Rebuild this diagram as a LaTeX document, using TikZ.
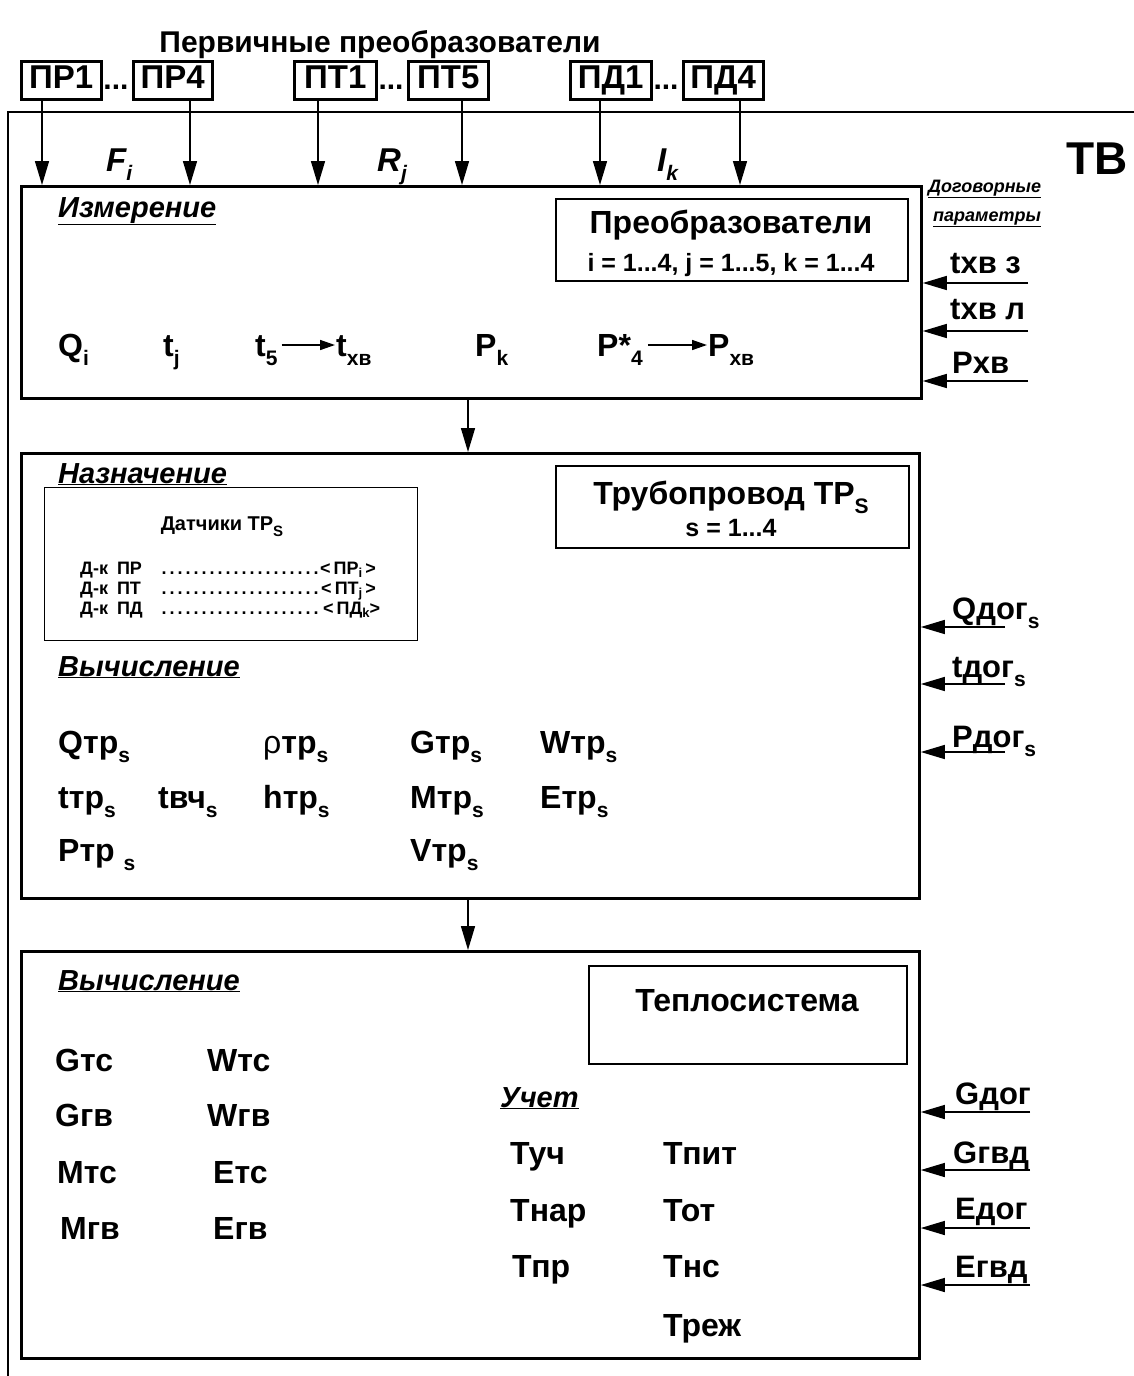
\documentclass[tikz,border=0pt]{standalone}
\usepackage{fontspec}
\setmainfont{Liberation Sans}
\usetikzlibrary{arrows.meta}
\newcommand\fsz[1]{\fontsize{#1}{#1}\selectfont}
\newcommand\lowsub[2][21]{\raisebox{-0.3em}{\fsz{#1}#2}}
\newcommand\dsub[1]{\raisebox{-0.2em}{\fsz{13}#1}}
\newcommand\dotlead{\leaders\hbox to 8pt{\hss.\hss}\hfill}
\begin{document}
\bfseries
\begin{tikzpicture}[x=1pt,y=-1pt,
  txt/.style={anchor=base west,inner sep=0pt,font=\fsz{32}},
  mid/.style={txt,font=\fsz{31}},
  small/.style={txt,font=\fsz{18}},
  head/.style={txt,font=\fsz{29}\itshape},
  ilbl/.style={txt,font=\fsz{33}\itshape},
  frame/.style={draw,line width=2.8pt,inner sep=0pt,anchor=north west},
  ibox/.style={draw,line width=1.8pt,inner sep=0pt,anchor=north west},
  sbox/.style={draw,line width=2.5pt,inner sep=0pt,anchor=north west,font=\fsz{33},text height=22pt,text depth=5pt},
  arr/.style={line width=1.5pt,-{Triangle[length=24pt,width=14pt]}},
  tarr/.style={line width=1.5pt,-{Triangle[length=15pt,width=10pt]}},
]
\useasboundingbox (0,0) rectangle (1134,1376);
\fill[white] (0,0) rectangle (1134,1376);

% title
\node[txt,anchor=base,font=\fsz{30}] (title) at (380,52) {Первичные преобразователи};

% primary converters
\node[sbox,minimum width=80pt,minimum height=38pt] (pr1) at (20,60) {ПР1};
\node[sbox,minimum width=79pt,minimum height=38pt] (pr4) at (132,60) {ПР4};
\node[sbox,minimum width=82pt,minimum height=38pt] (pt1) at (293,60) {ПТ1};
\node[sbox,minimum width=80pt,minimum height=38pt] (pt5) at (407,60) {ПТ5};
\node[sbox,minimum width=81pt,minimum height=38pt] (pd1) at (569,60) {ПД1};
\node[sbox,minimum width=80pt,minimum height=38pt] (pd4) at (682,60) {ПД4};
\node[txt,anchor=base,font=\fsz{30}] (dots1) at (116,89) {...};
\node[txt,anchor=base,font=\fsz{30}] (dots2) at (391,89) {...};
\node[txt,anchor=base,font=\fsz{30}] (dots3) at (666,89) {...};

% outer TB frame
\draw[line width=2.8pt] (8,1376) -- (8,112) -- (1134,112);
\node[txt,font=\fsz{46}] (tv) at (1066,174) {ТВ};

% blocks
\node[frame,minimum width=900pt,minimum height=212pt] (b1) at (20,185) {};
\node[frame,minimum width=898pt,minimum height=445pt] (b2) at (20,452) {};
\node[frame,minimum width=898pt,minimum height=407pt] (b3) at (20,950) {};

% arrows from converters
\coordinate (x1) at (42,0);
\coordinate (x2) at (190,0);
\coordinate (x3) at (318,0);
\coordinate (x4) at (462,0);
\coordinate (x5) at (600,0);
\coordinate (x6) at (740,0);
\draw[arr] (x1 |- pr1.south) -- (x1 |- b1.north);
\draw[arr] (x2 |- pr4.south) -- (x2 |- b1.north);
\draw[arr] (x3 |- pt1.south) -- (x3 |- b1.north);
\draw[arr] (x4 |- pt5.south) -- (x4 |- b1.north);
\draw[arr] (x5 |- pd1.south) -- (x5 |- b1.north);
\draw[arr] (x6 |- pd4.south) -- (x6 |- b1.north);
\node[ilbl] (fi) at (106,171) {F\lowsub[21]{i}};
\node[ilbl] (rj) at (377,171) {R\lowsub[21]{j}};
\node[ilbl] (ik) at (657,171) {I\lowsub[21]{k}};

% block 1
\node[head] (h1) at (58,217) {\underline{Измерение}};
\node[ibox,minimum width=352pt,minimum height=82pt] (conv) at (555,198) {};
\node[txt,anchor=base] (convt) at (731,233) {Преобразователи};
\node[txt,anchor=base,font=\fsz{25}] (convi) at (731,271) {i = 1...4, j = 1...5, k = 1...4};
\node[txt] (qi) at (58,356) {Q\lowsub{i}};
\node[txt] (tj) at (163,356) {t\lowsub{j}};
\node[txt] (t5) at (255,356) {t\lowsub{5}};
\node[txt] (txv) at (336,356) {t\lowsub{хв}};
\draw[tarr] ([shift={(4,-11)}]t5.base east) -- ([shift={(-1,-11)}]txv.base west);
\node[txt] (pk) at (475,356) {P\lowsub{k}};
\node[txt] (p4) at (597,356) {P*\lowsub{4}};
\node[txt] (pxv) at (708,356) {P\lowsub{хв}};
\draw[tarr] ([shift={(5,-11)}]p4.base east) -- ([shift={(-1,-11)}]pxv.base west);

% contract parameters
\node[txt,font=\fsz{18}\itshape] (dog1) at (928,192) {\underline{Договорные}};
\node[txt,font=\fsz{18}\itshape] (dog2) at (933,221) {\underline{параметры}};
\node[mid] (txz) at (950,273) {tхв з};
\node[mid] (txl) at (950,319) {tхв л};
\node[mid] (pxvi) at (952,373) {Рхв};
\coordinate (r1) at (1028,283);
\coordinate (r2) at (1028,331);
\coordinate (r3) at (1028,381);
\draw[arr] (r1) -- (r1 -| b1.east);
\draw[arr] (r2) -- (r2 -| b1.east);
\draw[arr] (r3) -- (r3 -| b1.east);

\coordinate (mx) at (468,0);
\draw[arr] (mx |- b1.south) -- (mx |- b2.north);
\draw[arr] (mx |- b2.south) -- (mx |- b3.north);

% block 2
\node[head] (h2) at (58,483) {\underline{Назначение}};
\node[draw,line width=1pt,inner sep=0pt,anchor=north west,minimum width=373pt,minimum height=153pt] (dat) at (44,487) {};
\node[small,anchor=base,font=\fsz{20}] (datt) at (222,530) {Датчики ТР\lowsub[15]{S}};
\node[small] (dk1) at (80,574) {\hbox to 240pt{Д-к\hspace{9pt}ПР\hspace{12pt}\dotlead}<\,ПР\dsub{i}\,>};
\node[small] (dk2) at (80,594) {\hbox to 241pt{Д-к\hspace{9pt}ПТ\hspace{12pt}\dotlead}<\,ПТ\dsub{j}\,>};
\node[small] (dk3) at (80,614) {\hbox to 243pt{Д-к\hspace{9pt}ПД\hspace{12pt}\dotlead}<\,ПД\dsub{k}>};
\node[ibox,minimum width=353pt,minimum height=82pt] (trub) at (555,465) {};
\node[txt,anchor=base] (trubt) at (731,504) {Трубопровод ТР\lowsub{S}};
\node[txt,anchor=base,font=\fsz{25}] (trubs) at (731,536) {s = 1...4};
\node[head] (h3) at (58,676) {\underline{Вычисление}};
\node[txt] (qtr) at (58,753) {Qтр\lowsub{s}};
\node[txt] (rtr) at (263,753) {{\mdseries ρ}тр\lowsub{s}};
\node[txt] (gtr) at (410,753) {Gтр\lowsub{s}};
\node[txt] (wtr) at (540,753) {Wтр\lowsub{s}};
\node[txt] (ttr) at (58,808) {tтр\lowsub{s}};
\node[txt] (tvch) at (158,808) {tвч\lowsub{s}};
\node[txt] (htr) at (263,808) {hтр\lowsub{s}};
\node[txt] (mtr) at (410,808) {Mтр\lowsub{s}};
\node[txt] (etr) at (540,808) {Eтр\lowsub{s}};
\node[txt] (ptr) at (58,861) {Pтр \lowsub{s}};
\node[txt] (vtr) at (410,861) {Vтр\lowsub{s}};

\node[mid] (qdog) at (952,619) {Qдог\lowsub{s}};
\node[mid] (tdog) at (952,677) {tдог\lowsub{s}};
\node[mid] (pdog) at (952,747) {Pдог\lowsub{s}};
\coordinate (r4) at (1005,627);
\coordinate (r5) at (1005,684);
\coordinate (r6) at (1005,752);
\draw[arr] (r4) -- (r4 -| b2.east);
\draw[arr] (r5) -- (r5 -| b2.east);
\draw[arr] (r6) -- (r6 -| b2.east);

% block 3
\node[head] (h4) at (58,990) {\underline{Вычисление}};
\node[ibox,minimum width=318pt,minimum height=98pt] (teplo) at (588,965) {};
\node[txt,anchor=base] (teplot) at (747,1011) {Теплосистема};
\node[txt] (gtc) at (55,1071) {Gтс};
\node[txt] (wtc) at (207,1071) {Wтс};
\node[txt] (ggv) at (55,1126) {Gгв};
\node[txt] (wgv) at (207,1126) {Wгв};
\node[txt] (mtc) at (57,1183) {Mтс};
\node[txt] (etc) at (213,1183) {Eтс};
\node[txt] (mgv) at (60,1239) {Mгв};
\node[txt] (egv) at (213,1239) {Eгв};
\node[head] (uch) at (500,1107) {\underline{Учет}};
\node[txt] (tuch) at (510,1164) {Туч};
\node[txt] (tpit) at (663,1164) {Тпит};
\node[txt] (tnar) at (510,1221) {Тнар};
\node[txt] (tot) at (663,1221) {Тот};
\node[txt] (tpr) at (512,1277) {Тпр};
\node[txt] (tns) at (663,1277) {Тнс};
\node[txt] (trej) at (663,1336) {Треж};

\node[mid] (gdog) at (955,1104) {Gдог};
\node[mid] (ggvd) at (953,1163) {Gгвд};
\node[mid] (edog) at (955,1219) {Eдог};
\node[mid] (egvd) at (955,1277) {Eгвд};
\coordinate (r7) at (1030,1112);
\coordinate (r8) at (1030,1170);
\coordinate (r9) at (1030,1228);
\coordinate (r10) at (1030,1285);
\draw[arr] (r7) -- (r7 -| b3.east);
\draw[arr] (r8) -- (r8 -| b3.east);
\draw[arr] (r9) -- (r9 -| b3.east);
\draw[arr] (r10) -- (r10 -| b3.east);
\end{tikzpicture}
\end{document}
